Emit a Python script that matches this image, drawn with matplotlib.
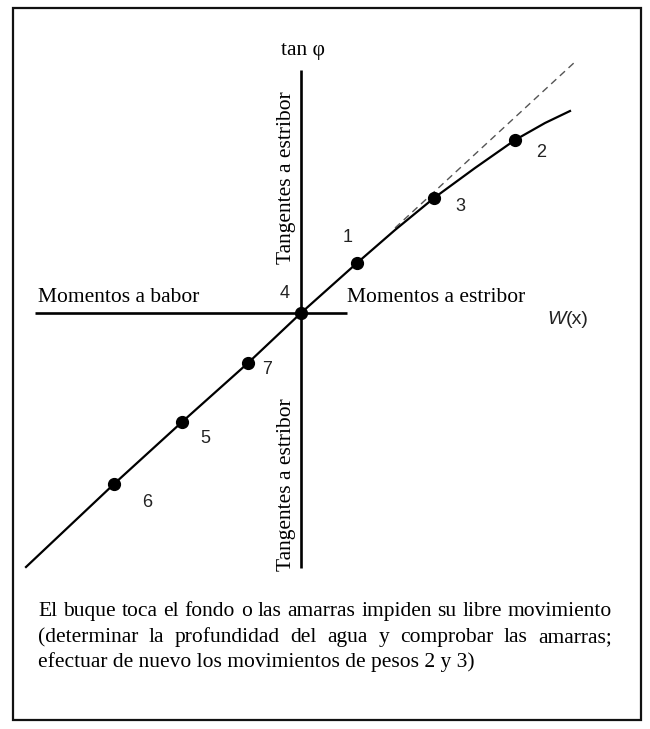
import numpy as np
import matplotlib
matplotlib.use("Agg")
import matplotlib.pyplot as plt
from matplotlib.patches import Rectangle

# Curve (W(x) against tan phi, arbitrary units)
curve_w = [-5.50, -3.74, -2.38, -1.06, 0.00, 1.12, 1.88, 2.66, 3.48, 4.28, 4.88, 5.38]
curve_tan = [-5.08, -3.42, -2.18, -1.00, 0.00, 1.00, 1.66, 2.30, 2.90, 3.46, 3.80, 4.04]

# Measured points (weight shifts 1..7)
point_labels = ["1", "2", "3", "4", "5", "6", "7"]
point_w = [1.12, 4.28, 2.66, 0.00, -2.38, -3.74, -1.06]
point_tan = [1.00, 3.46, 2.30, 0.00, -2.18, -3.42, -1.00]
label_offsets = [(-7, 18), (19, -9), (19, -6), (-12, 14), (17, -12), (24, -13), (14, -5)]

# Dashed straight-line extension
dash_w = [1.88, 5.50]
dash_tan = [1.70, 5.04]

W, H = 650, 729
fig = plt.figure(figsize=(W / 100, H / 100), dpi=100)
ax = fig.add_axes([0, 0, 1, 1])
scale = 50.0
ox, oy = 301, 313
ax.set_xlim(-ox / scale, (W - ox) / scale)
ax.set_ylim(-(H - oy) / scale, oy / scale)
ax.axis("off")

serif = "Liberation Serif"
sans = "Liberation Sans"
fs = 15.5


def fpos(x, y):
    return x / W, 1 - y / H


# frame
fig.patches.append(Rectangle(fpos(13, 720), 628 / W, 712 / H, transform=fig.transFigure,
                             fill=False, lw=1.6, ec="#111111"))

# axes lines
ax.plot([0, 0], [4.86, -5.10], color="black", lw=1.9, solid_capstyle="butt")
ax.plot([-5.32, 0.92], [0, 0], color="black", lw=1.9, solid_capstyle="butt")

ax.plot(dash_w, dash_tan, color="#555555", lw=1.0, ls=(0, (5, 3.5)))
ax.plot(curve_w, curve_tan, color="black", lw=1.6, solid_joinstyle="round")
ax.plot(point_w, point_tan, "o", color="black", ms=8.5, zorder=5)

for lab, x, y, off in zip(point_labels, point_w, point_tan, label_offsets):
    ax.annotate(lab, (x, y), xytext=off, textcoords="offset points", ha="center", va="center",
                fontsize=13, family=sans, color="#222222")

fig.text(*fpos(303, 50), "tan φ", ha="center", va="center", fontsize=fs, family=serif)
fig.text(*fpos(38, 298), "Momentos a babor", ha="left", va="center", fontsize=fs, family=serif)
fig.text(*fpos(347, 298), "Momentos a estribor", ha="left", va="center", fontsize=fs, family=serif)
fig.text(*fpos(566, 320), "W", ha="right", va="center", fontsize=14, family=sans,
         style="italic", color="#222222")
fig.text(*fpos(566, 320), "(x)", ha="left", va="center", fontsize=14, family=sans,
         color="#222222")
fig.text(*fpos(287, 178), "Tangentes a estribor", ha="center", va="center", rotation=90,
         fontsize=fs, family=serif)
fig.text(*fpos(287, 485), "Tangentes a estribor", ha="center", va="center", rotation=90,
         fontsize=fs, family=serif)

lines = [
    "El buque toca el fondo o las amarras impiden su libre movimiento",
    "(determinar la profundidad del agua y comprobar las amarras;",
    "efectuar de nuevo los movimientos de pesos 2 y 3)",
]
line_y = [616, 642, 667]
left, right = 38, 612
renderer = fig.canvas.get_renderer()
for i, (txt, y) in enumerate(zip(lines, line_y)):
    if i == len(lines) - 1:
        fig.text(*fpos(left, y), txt, ha="left", va="baseline", fontsize=fs, family=serif)
        continue
    words = txt.split()
    objs = [fig.text(0, 0, w, fontsize=fs, family=serif, va="baseline") for w in words]
    widths = [o.get_window_extent(renderer).width for o in objs]
    gap = (right - left - sum(widths)) / (len(words) - 1)
    x = left
    for o, wd in zip(objs, widths):
        o.set_position(fpos(x, y))
        x += wd + gap

fig.savefig("out.png", dpi=100)
